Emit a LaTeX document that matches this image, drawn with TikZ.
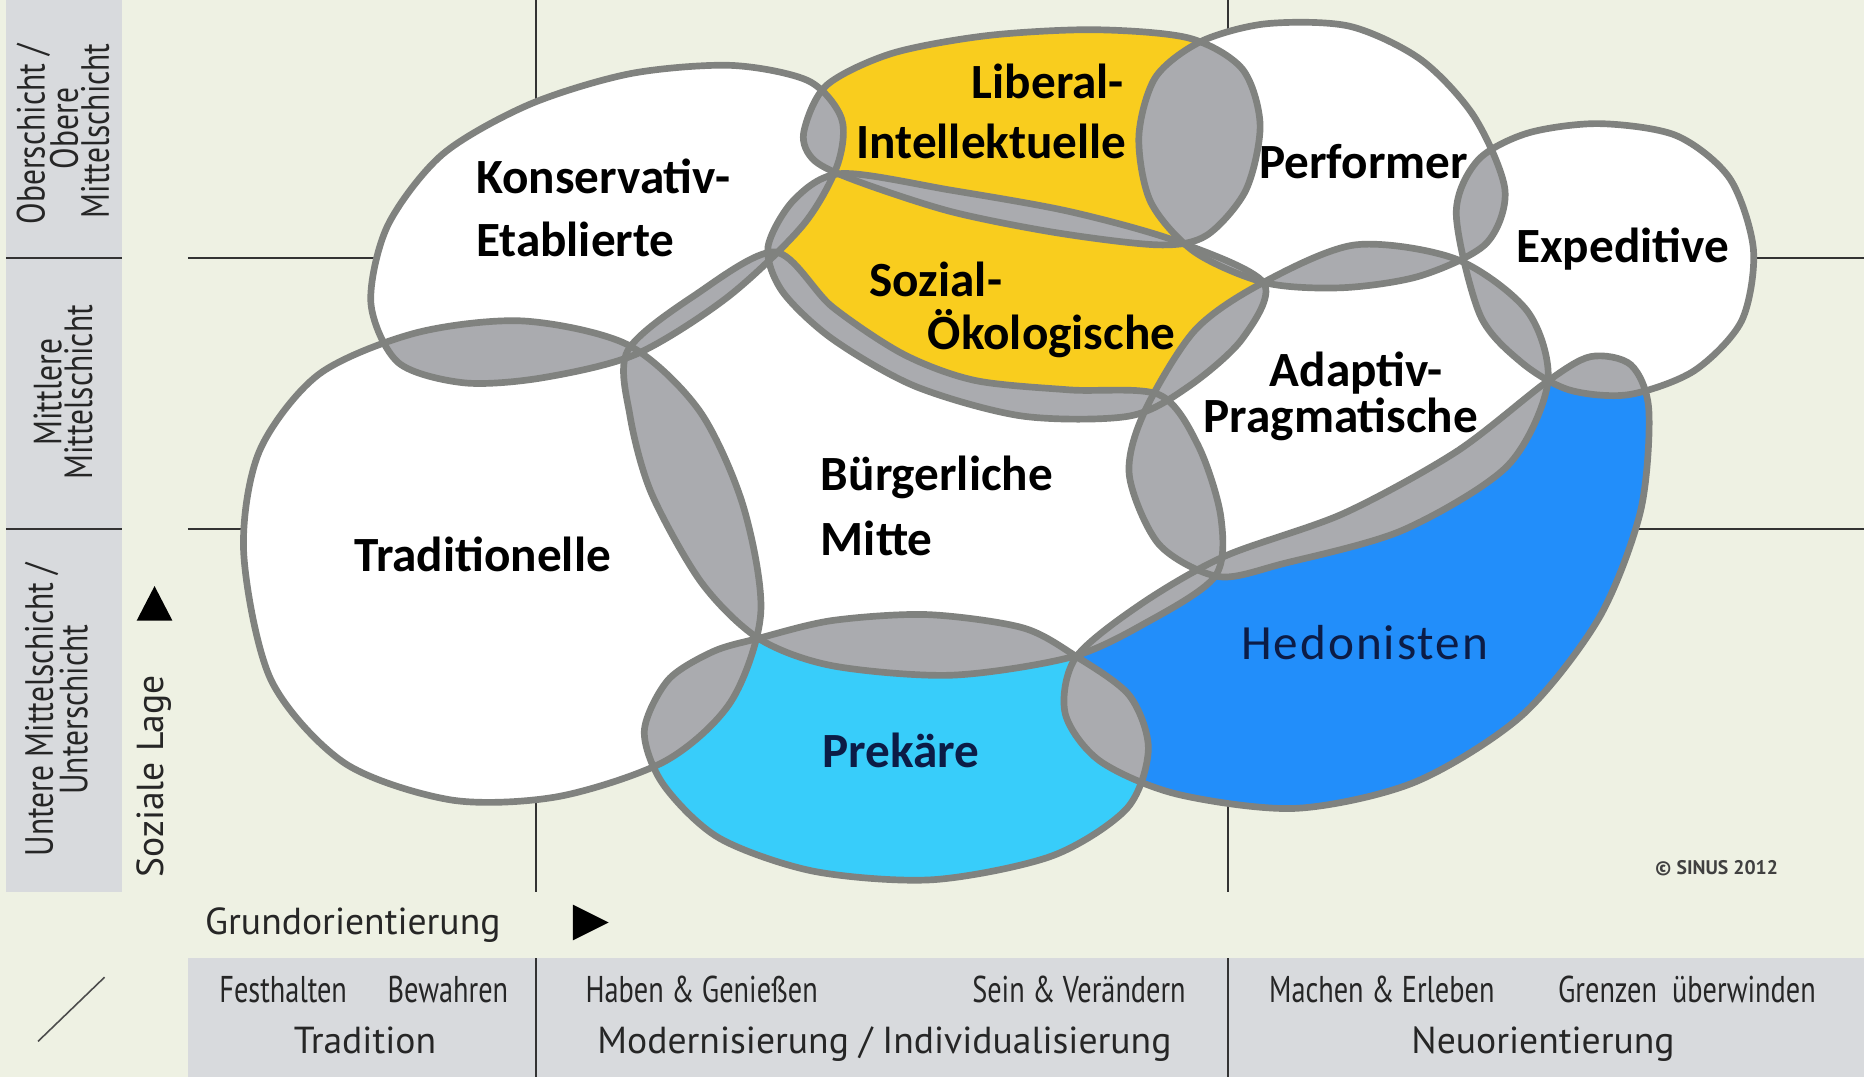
\documentclass[tikz,border=0pt]{standalone}
\usepackage{fontspec}
\setmainfont{Carlito}
\newfontfamily\spacedfont[LetterSpace=4]{Carlito}
\newfontfamily\dinfont{PT Sans}
\newfontfamily\dinnarrow[FakeStretch=0.8]{PT Sans}
\newfontfamily\dinslim[FakeStretch=0.76]{PT Sans}

\definecolor{bgcream}{RGB}{238,241,227}
\definecolor{boxgray}{RGB}{216,218,221}
\definecolor{rimgray}{RGB}{128,130,127}
\definecolor{lensgray}{RGB}{170,171,175}
\definecolor{milyellow}{RGB}{249,205,30}
\definecolor{prekblue}{RGB}{56,205,250}
\definecolor{hedblue}{RGB}{34,142,250}
\definecolor{navy}{RGB}{12,28,70}

\def\shapeKE{plot[smooth cycle] coordinates {(312,255) (326,190) (372,130) (445,88) (530,62) (615,55) (680,68) (708,100) (704,140) (675,190) (612,250) (535,298) (455,318) (390,322) (335,305)}}
\def\shapeLI{plot[smooth cycle] coordinates {(676,112) (695,72) (750,45) (830,30) (920,25) (1000,32) (1045,58) (1060,105) (1048,160) (1015,198) (975,206) (890,196) (800,178) (720,152) (685,135)}}
\def\shapePF{plot[smooth cycle] coordinates {(958,115) (972,65) (1010,35) (1065,20) (1135,22) (1195,50) (1240,98) (1266,160) (1250,205) (1195,232) (1130,242) (1065,238) (1005,212) (968,170)}}
\def\shapeEX{plot[smooth cycle] coordinates {(1225,180) (1243,135) (1285,112) (1345,104) (1410,114) (1455,150) (1475,210) (1465,270) (1425,312) (1370,332) (1320,328) (1280,305) (1245,265)}}
\def\shapeSO{plot[smooth cycle] coordinates {(646,208) (668,168) (708,146) (800,160) (900,178) (990,203) (1063,238) (1045,285) (1000,325) (950,350) (860,350) (770,325) (700,285) (658,245)}}
\def\shapeAP{plot[smooth cycle] coordinates {(1062,238) (1140,206) (1225,218) (1285,262) (1302,322) (1268,392) (1180,446) (1080,474) (1025,485) (975,458) (950,400) (962,348) (1005,278)}}
\def\shapeHE{plot[smooth cycle] coordinates {(905,553) (960,508) (1030,468) (1130,432) (1225,380) (1300,322) (1338,300) (1372,307) (1387,345) (1380,430) (1345,520) (1280,602) (1190,658) (1090,680) (990,668) (925,640) (896,600)}}
\def\shapeBM{plot[smooth cycle] coordinates {(528,295) (585,248) (652,212) (700,258) (760,298) (820,320) (900,328) (975,332) (1008,375) (1027,435) (1022,485) (962,525) (900,553) (800,568) (700,560) (638,537) (590,490) (548,415) (530,350)}}
\def\shapeTR{plot[smooth cycle] coordinates {(205,465) (218,380) (268,315) (350,280) (440,270) (528,290) (588,345) (625,425) (640,515) (615,590) (560,640) (470,670) (380,673) (290,642) (228,572)}}
\def\shapePR{plot[smooth cycle] coordinates {(638,537) (700,522) (780,517) (860,528) (905,552) (950,585) (966,630) (948,680) (885,720) (785,740) (685,733) (605,705) (558,660) (542,615) (562,572) (600,548)}}

\newcommand\lensfill[2]{\begin{scope}\clip #1;\fill[lensgray] #2;\end{scope}}

\begin{document}
\begin{tikzpicture}[x=0.011888cm,y=-0.011888cm,
    rim/.style={draw=rimgray,line width=1.9pt},
    gridline/.style={draw=black!80,line width=0.45pt},
    milieu/.style={font=\bfseries\fontsize{14}{16}\selectfont,inner sep=0pt},
    axislabel/.style={font=\dinfont\fontsize{10.7}{12}\selectfont,text=black!85,inner sep=0pt},
    orient/.style={font=\dinslim\fontsize{10.6}{12}\selectfont,text=black!85,inner sep=0pt},
    layer/.style={font=\dinnarrow\fontsize{11.2}{12}\selectfont,text=black!85,inner sep=0pt,rotate=90}]
  \useasboundingbox (0,0) rectangle (1568,906);
  \fill[bgcream] (0,0) rectangle (1568,906);

  \draw[gridline] (451,0) -- (451,750) (1033,0) -- (1033,750);
  \draw[gridline] (158,217) -- (1568,217) (158,445) -- (1568,445);

  \fill[boxgray] (5,0) rectangle (103,750);
  \draw[gridline] (5,217) -- (103,217) (5,445) -- (103,445);
  \fill[boxgray] (158,806) rectangle (1568,906);
  \draw[gridline] (451,806) -- (451,906) (1033,806) -- (1033,906);
  \draw[black!70,line width=0.45pt] (32,876) -- (88,822);

  \fill (115,522) -- (145,522) -- (130,493) -- cycle;
  \fill (482,761) -- (482,791) -- (512,776) -- cycle;

  \fill[white] \shapeKE;
  \fill[white] \shapeTR;
  \fill[white] \shapeBM;
  \fill[white] \shapePF;
  \fill[white] \shapeEX;
  \fill[white] \shapeAP;
  \fill[milyellow] \shapeLI;
  \fill[milyellow] \shapeSO;
  \fill[prekblue] \shapePR;
  \fill[hedblue] \shapeHE;

  \lensfill{\shapeKE}{\shapeLI}
  \lensfill{\shapeKE}{\shapeSO}
  \lensfill{\shapeKE}{\shapeBM}
  \lensfill{\shapeKE}{\shapeTR}
  \lensfill{\shapeLI}{\shapeSO}
  \lensfill{\shapeLI}{\shapePF}
  \lensfill{\shapePF}{\shapeEX}
  \lensfill{\shapePF}{\shapeAP}
  \lensfill{\shapePF}{\shapeSO}
  \lensfill{\shapeSO}{\shapeAP}
  \lensfill{\shapeSO}{\shapeBM}
  \lensfill{\shapeAP}{\shapeEX}
  \lensfill{\shapeAP}{\shapeBM}
  \lensfill{\shapeAP}{\shapeHE}
  \lensfill{\shapeEX}{\shapeHE}
  \lensfill{\shapeBM}{\shapeTR}
  \lensfill{\shapeBM}{\shapePR}
  \lensfill{\shapeBM}{\shapeHE}
  \lensfill{\shapeTR}{\shapePR}
  \lensfill{\shapePR}{\shapeHE}

  \draw[rim] \shapeKE;
  \draw[rim] \shapeLI;
  \draw[rim] \shapePF;
  \draw[rim] \shapeEX;
  \draw[rim] \shapeSO;
  \draw[rim] \shapeAP;
  \draw[rim] \shapeHE;
  \draw[rim] \shapeBM;
  \draw[rim] \shapeTR;
  \draw[rim] \shapePR;

  \node[milieu,anchor=base west] (konservativ) at (400,163) {Konservativ-};
  \node[milieu,anchor=base west] (etablierte) at (400,216) {Etablierte};
  \node[milieu,anchor=base east] (liberal) at (946,83) {Liberal-};
  \node[milieu,anchor=base east] (intellektuelle) at (948,133) {Intellektuelle};
  \node[milieu,anchor=base] (performer) at (1147,150) {Performer};
  \node[milieu,anchor=base] (expeditive) at (1365,221) {Expeditive};
  \node[milieu,anchor=base west] (sozial) at (731,249) {Sozial-};
  \node[milieu,anchor=base west] (oekologische) at (780,294) {Ökologische};
  \node[milieu,anchor=base] (adaptiv) at (1141,325) {Adaptiv-};
  \node[milieu,anchor=base] (pragmatische) at (1128,364) {Pragmatische};
  \node[milieu,anchor=base west] (buergerliche) at (690,413) {Bürgerliche};
  \node[milieu,anchor=base west] (mitte) at (690,467) {Mitte};
  \node[milieu,anchor=base] (traditionelle) at (406,481) {Traditionelle};
  \node[milieu,anchor=base,text=navy] (prekaere) at (758,646) {Prekäre};
  \node[font=\spacedfont\fontsize{14}{16}\selectfont,inner sep=0pt,anchor=base,text=navy] (hedonisten) at (1148,555) {Hedonisten};

  \node[layer] (oberschicht) at (28,113) {Oberschicht /};
  \node[layer] (obere) at (54,108) {Obere};
  \node[layer] (mittelschicht1) at (80,110) {Mittelschicht};
  \node[layer] (mittlere) at (40,330) {Mittlere};
  \node[layer] (mittelschicht2) at (66,330) {Mittelschicht};
  \node[layer] (untere) at (35,597) {Untere Mittelschicht /};
  \node[layer] (unterschicht) at (62,597) {Unterschicht};
  \node[axislabel,rotate=90] (sozlage) at (130,653) {Soziale Lage};

  \node[axislabel,anchor=base west] (grundorient) at (172,786) {Grundorientierung};

  \node[orient,anchor=base west] (festhalten) at (184,843) {Festhalten};
  \node[orient,anchor=base east] (bewahren) at (428,843) {Bewahren};
  \node[axislabel,anchor=base] (tradition) at (307,886) {Tradition};
  \node[orient,anchor=base west] (haben) at (492,843) {Haben \& Genießen};
  \node[orient,anchor=base east] (sein) at (998,843) {Sein \& Verändern};
  \node[axislabel,anchor=base] (modern) at (744,886) {Modernisierung / Individualisierung};
  \node[orient,anchor=base west] (machen) at (1067,843) {Machen \& Erleben};
  \node[orient,anchor=base east] (grenzen) at (1528,843) {Grenzen\ \ überwinden};
  \node[axislabel,anchor=base] (neuorient) at (1298,886) {Neuorientierung};

  \node[font=\dinfont\bfseries\fontsize{5.6}{6}\selectfont,text=black!75] (sinus) at (1444,730) {© SINUS 2012};
\end{tikzpicture}
\end{document}
